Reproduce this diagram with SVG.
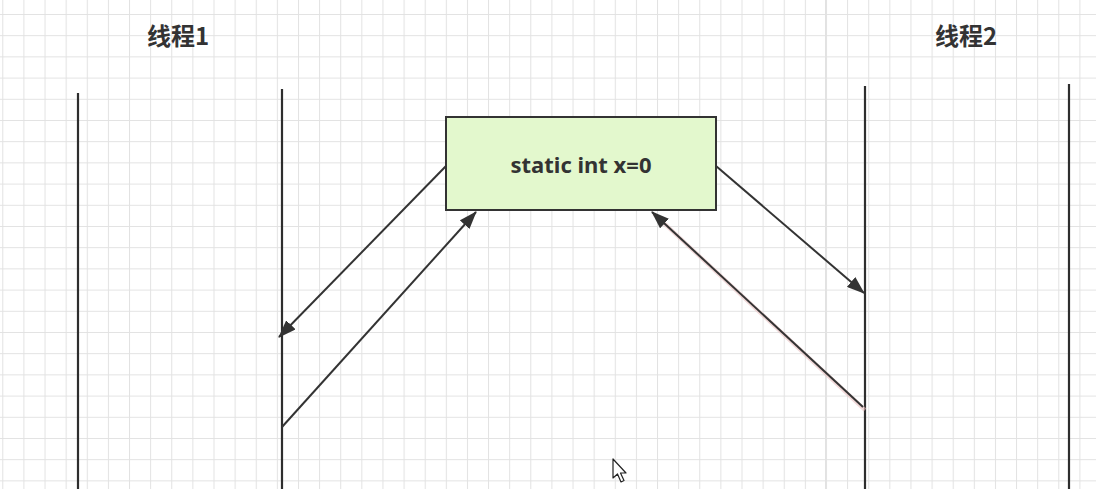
<svg xmlns="http://www.w3.org/2000/svg" width="1096" height="489" viewBox="0 0 1096 489">
<defs>
<pattern id="grid" x="2.3" y="14" width="21.12" height="21.2" patternUnits="userSpaceOnUse">
<path d="M0 0.5H21.12M0.5 0V21.2" fill="none" stroke="#e2e2e2" stroke-width="1"/>
</pattern>
<marker id="arr" viewBox="0 0 18 13" refX="17" refY="6.5" markerWidth="18" markerHeight="13" markerUnits="userSpaceOnUse" orient="auto">
<path d="M0 0L18 6.5L0 13Z" fill="#333"/>
</marker>
<style>
.life{stroke:#2e2e2e;stroke-width:2.2;fill:none}
.conn{stroke:#333;stroke-width:2;fill:none;marker-end:url(#arr)}
.title{font-family:"Noto Sans CJK SC","Noto Sans",sans-serif;font-weight:bold;font-size:24px;fill:#333}
.label{font-family:"Noto Sans","Liberation Sans",sans-serif;font-weight:bold;font-size:22px;fill:#333}
</style>
</defs>
<rect width="1096" height="489" fill="#fff"/>
<rect width="1096" height="489" fill="url(#grid)"/>
<g id="thread1">
<text class="title" x="178" y="45" text-anchor="middle">线程1</text>
<line class="life" x1="78" y1="93" x2="78" y2="489"/>
<line class="life" x1="282" y1="89" x2="282" y2="489"/>
</g>
<g id="thread2">
<text class="title" x="966" y="45" text-anchor="middle">线程2</text>
<line class="life" x1="865" y1="86" x2="865" y2="489"/>
<line class="life" x1="1069" y1="84" x2="1069" y2="489"/>
</g>
<g id="var">
<rect x="446" y="117" width="270" height="93" fill="#e3f8cd" stroke="#333" stroke-width="2"/>
<text class="label" x="581" y="173" text-anchor="middle">static int x=0</text>
</g>
<g id="connectors">
<line class="conn" x1="446" y1="166" x2="279" y2="337"/>
<line class="conn" x1="282" y1="427" x2="476" y2="212"/>
<line class="conn" x1="716" y1="166" x2="864" y2="293"/>
<line x1="865" y1="410" x2="654" y2="214" stroke="#e8c0c0" stroke-width="4" opacity="0.6"/>
<line class="conn" x1="863" y1="407" x2="652" y2="212"/>
</g>
<g id="cursor">
<path d="M613 459V478L617.5 474L621 482L624 480.5L620.5 473L626 473Z" fill="#fff" stroke="#222" stroke-width="1.2" stroke-linejoin="round"/>
</g>
</svg>
